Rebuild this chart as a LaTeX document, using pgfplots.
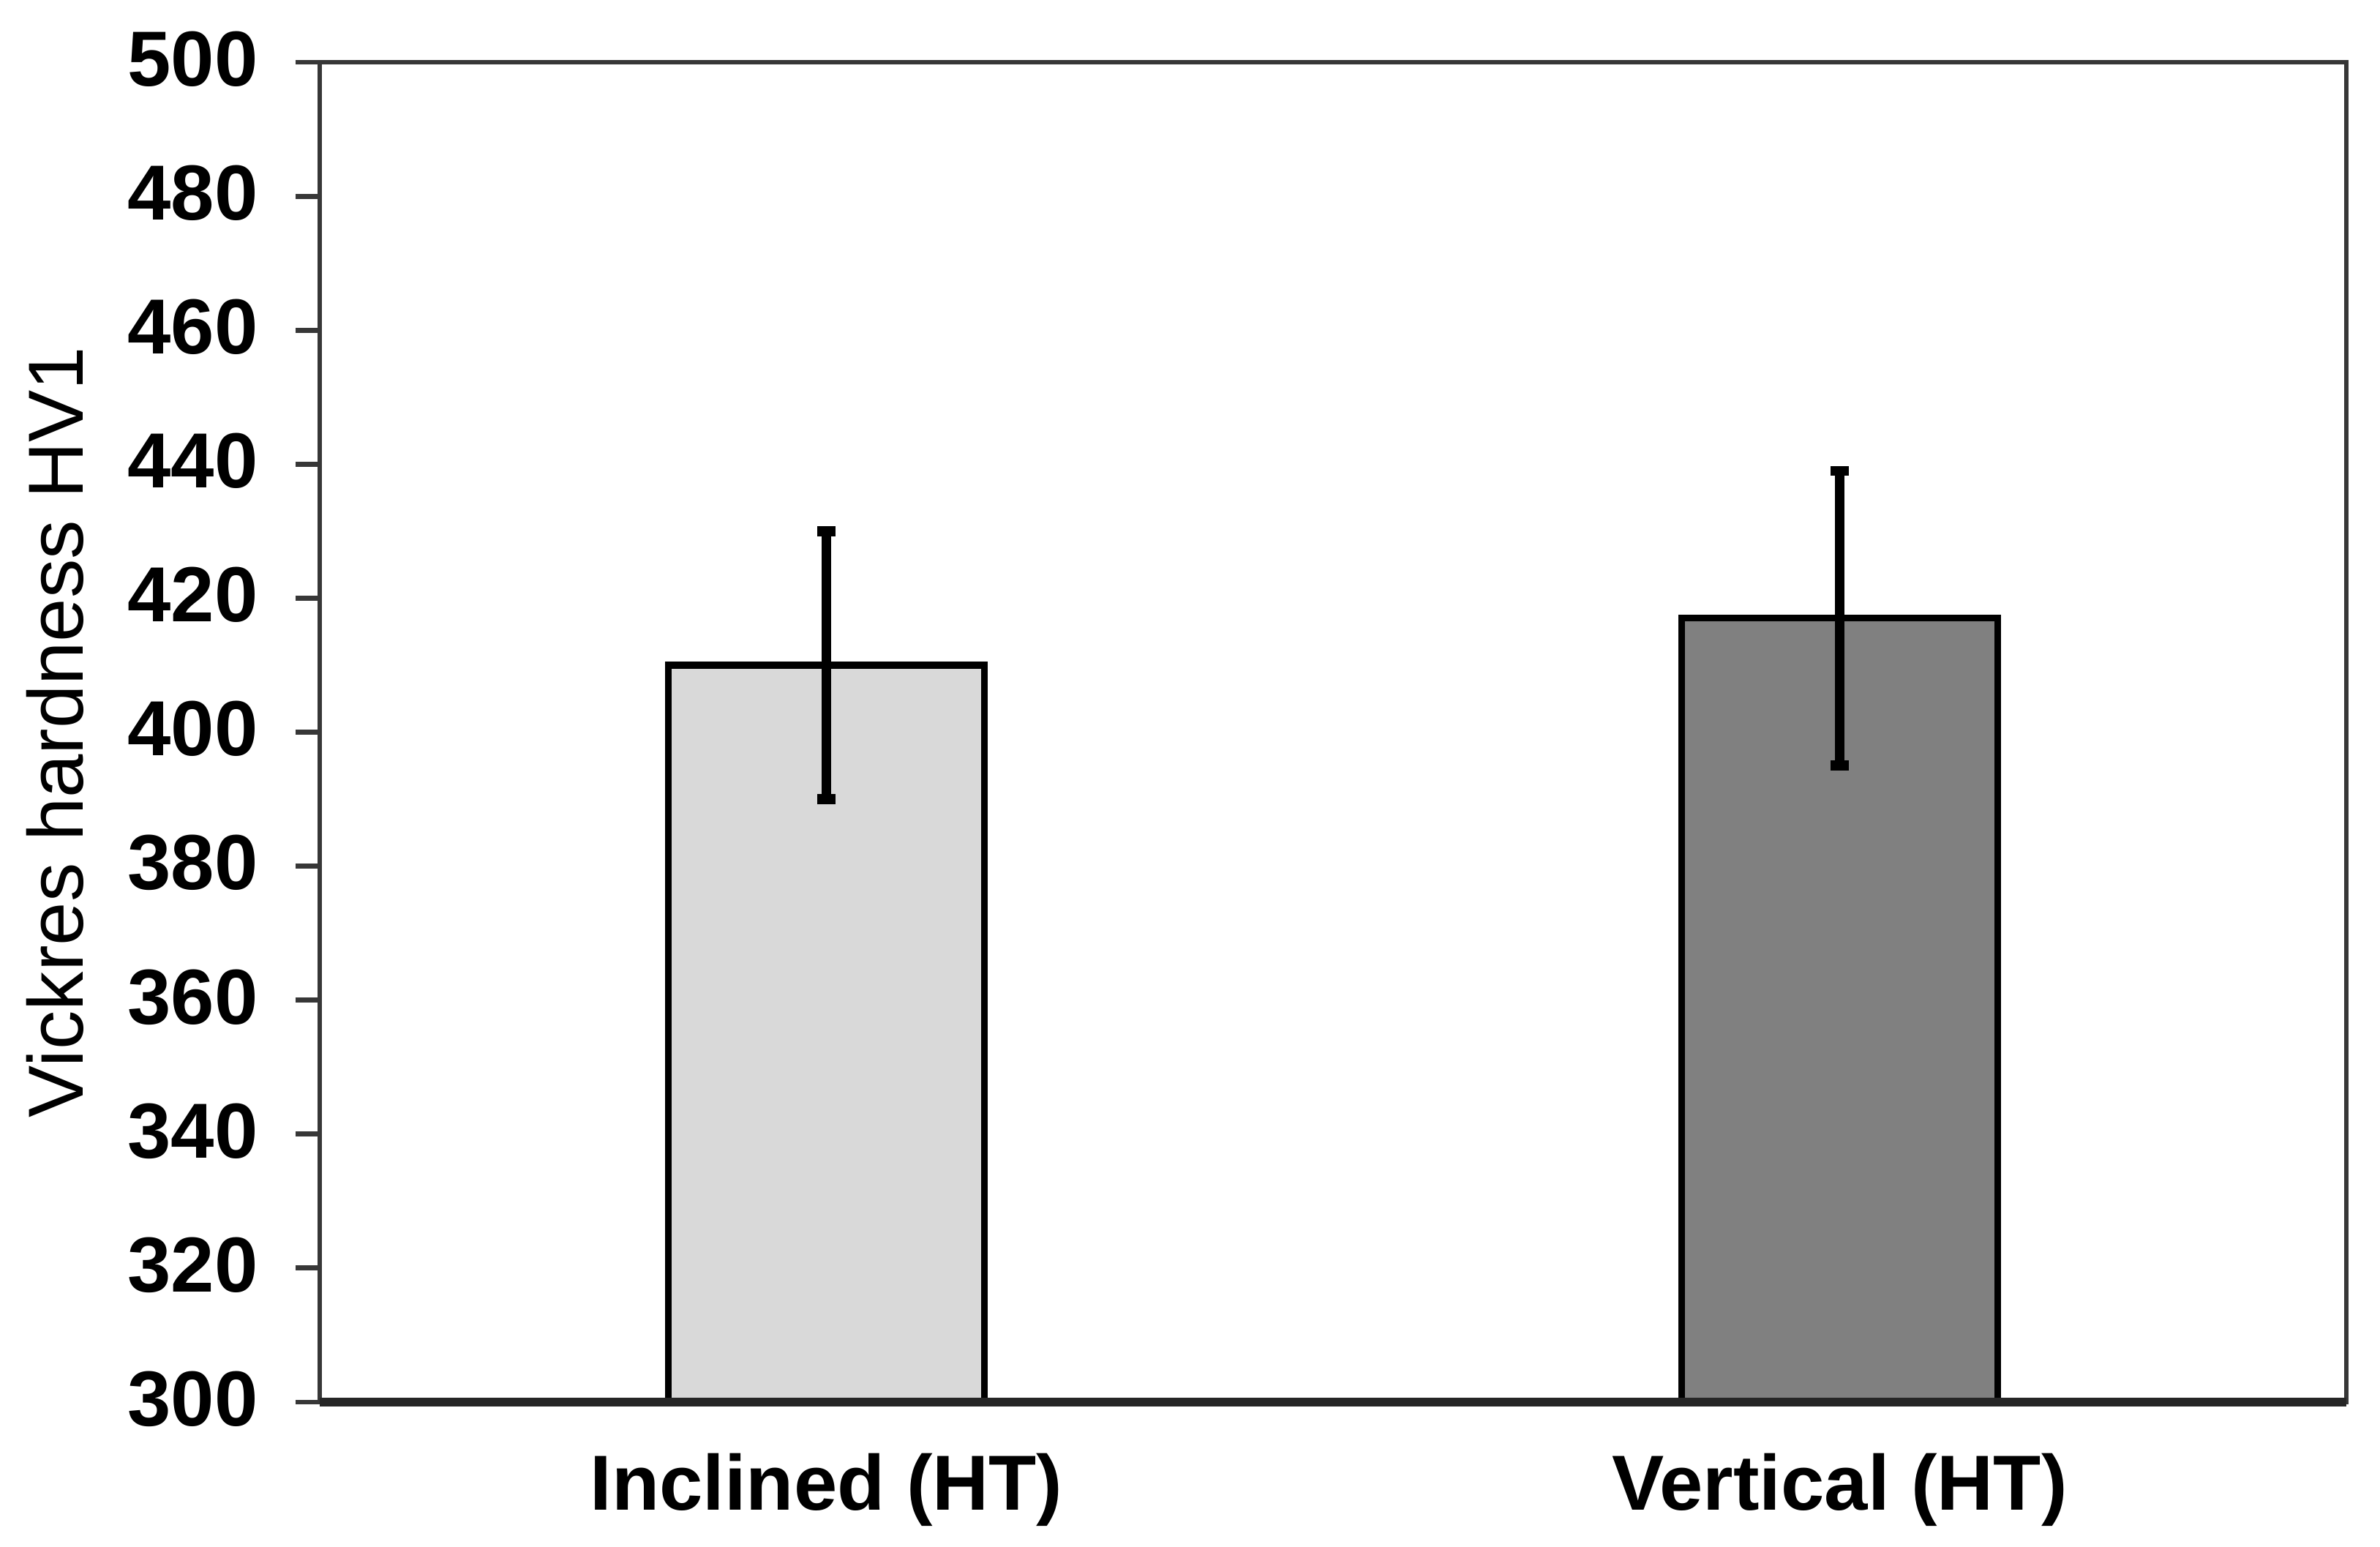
\documentclass[border=0pt]{standalone}
\usepackage{pgfplots}
\pgfplotsset{compat=1.18}
\usepackage{fontspec}
\setmainfont{Liberation Sans}
\definecolor{lightbar}{RGB}{217,217,217}
\definecolor{darkbar}{RGB}{128,128,128}
\definecolor{axgray}{RGB}{55,55,55}
\begin{document}
\begin{tikzpicture}
\useasboundingbox (0,0) rectangle (15,9.748);
\begin{axis}[
  at={(2.015cm,0.913cm)}, anchor=south west,
  width=12.773cm, height=8.443cm, scale only axis,
  xmin=-0.5, xmax=1.5,
  ymin=300, ymax=500,
  ytick={300,320,...,500},
  xtick={0,1},
  xticklabels={Inclined (HT),Vertical (HT)},
  major x tick style={draw=none},
  tick align=outside,
  ytick pos=left,
  major tick length=0.15cm,
  tick style={axgray, line width=0.9pt},
  axis line style={axgray, line width=0.9pt},
  /pgf/number format/assume math mode=true,
  yticklabel style={font=\fontsize{14}{16}\selectfont\bfseries, xshift=-0.115cm, yshift=0.02cm},
  xticklabel style={font=\fontsize{14}{16}\selectfont\bfseries, yshift=-0.05cm},
  ylabel={Vickres hardness HV1},
  ylabel style={font=\fontsize{14}{16}\selectfont, at={(axis description cs:-0.1066,0.5)}, anchor=south, rotate=0},
  bar width=0.312,
  error bars/error bar style={black, line width=1.7pt},
  error bars/error mark options={rotate=90, mark size=1.6pt, line width=1.8pt, black},
  clip=false,
]
\addplot[ybar, fill=lightbar, draw=black, line width=1.2pt,
  error bars/.cd, y dir=both, y explicit]
  coordinates {(0,410) +- (0,20)};
\addplot[ybar, fill=darkbar, draw=black, line width=1.2pt,
  error bars/.cd, y dir=both, y explicit]
  coordinates {(1,417) +- (0,22)};
\draw[black!85, line width=1.45pt] (rel axis cs:0,0) -- (rel axis cs:1,0);
\end{axis}
\end{tikzpicture}
\end{document}
